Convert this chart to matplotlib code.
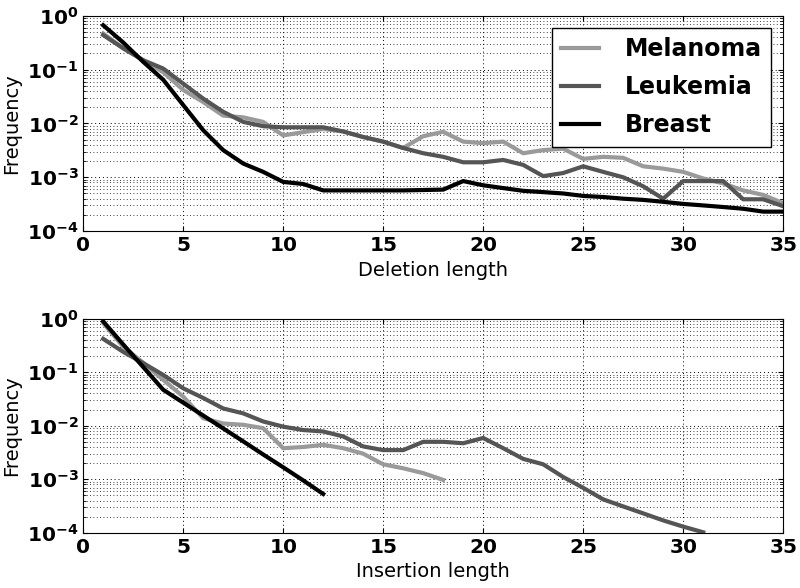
import numpy as np
import matplotlib
matplotlib.use("Agg")
import matplotlib.pyplot as plt
from matplotlib.ticker import FuncFormatter, LogLocator, NullFormatter

# deletion length distribution
del_x = list(range(1, 36))
del_melanoma = [0.47, 0.25, 0.15, 0.09, 0.042, 0.025, 0.014, 0.013, 0.0107, 0.006,
                0.0069, 0.0079, 0.0071, 0.0056, 0.0046, 0.0035, 0.0058, 0.0070, 0.0046, 0.0043,
                0.0046, 0.0028, 0.0032, 0.0034, 0.0022, 0.0024, 0.0023, 0.0016, 0.00145, 0.00126,
                0.00095, 0.00077, 0.00057, 0.00047, 0.00033]
del_leukemia = [0.44, 0.25, 0.15, 0.105, 0.055, 0.029, 0.0165, 0.0107, 0.0089, 0.0085,
                0.0085, 0.0085, 0.0071, 0.0056, 0.0046, 0.0035, 0.0028, 0.0024, 0.0019, 0.0019,
                0.0021, 0.0017, 0.00105, 0.0012, 0.0016, 0.00126, 0.001, 0.00068, 0.0004, 0.00085,
                0.00085, 0.00085, 0.00039, 0.00039, 0.00029]
del_breast = [0.67, 0.32, 0.14, 0.065, 0.022, 0.0075, 0.0032, 0.0018, 0.00126, 0.00082,
              0.00075, 0.00057, 0.00057, 0.00057, 0.00057, 0.00057, 0.00058, 0.00059, 0.00085, 0.00071,
              0.00063, 0.00056, 0.00053, 0.0005, 0.00045, 0.00043, 0.0004, 0.00038, 0.00035, 0.00032,
              0.0003, 0.00028, 0.00026, 0.00023, 0.00023]

# insertion length distribution
ins_melanoma_x = list(range(1, 19))
ins_melanoma = [0.83, 0.3, 0.15, 0.072, 0.035, 0.0138, 0.011, 0.0104, 0.009, 0.0038,
                0.004, 0.0044, 0.0038, 0.003, 0.0019, 0.0016, 0.0013, 0.00097]
ins_leukemia_x = list(range(1, 32))
ins_leukemia = [0.42, 0.24, 0.148, 0.089, 0.05, 0.033, 0.021, 0.017, 0.012, 0.0096,
                0.0083, 0.0078, 0.0063, 0.0041, 0.0035, 0.0035, 0.005, 0.005, 0.0047, 0.0059,
                0.0038, 0.0024, 0.0019, 0.0011, 0.00069, 0.00042, 0.00031, 0.00023, 0.00017, 0.00013,
                0.000102]
ins_breast_x = list(range(1, 13))
ins_breast = [0.89, 0.33, 0.125, 0.047, 0.027, 0.0155, 0.0089, 0.0051, 0.0029, 0.00167,
              0.00095, 0.00053]

labels = ["Melanoma", "Leukemia", "Breast"]
colors = ["#9a9a9a", "#555555", "#000000"]

plt.rcParams["xtick.direction"] = "in"
plt.rcParams["ytick.direction"] = "in"
plt.rcParams["xtick.top"] = True
plt.rcParams["ytick.right"] = True

fig = plt.figure(figsize=(8, 5.88), dpi=100)
ax1 = fig.add_axes([0.104, 0.607, 0.875, 0.366])
ax2 = fig.add_axes([0.104, 0.094, 0.875, 0.364])

def fmt(v, pos):
    return r"$\mathbf{10^{%d}}$" % int(round(np.log10(v)))

def style(ax, xlabel):
    ax.set_yscale("log")
    ax.set_xlim(0, 35)
    ax.set_ylim(1e-4, 1)
    ax.set_xticks([0, 5, 10, 15, 20, 25, 30, 35])
    ax.yaxis.set_major_locator(LogLocator(base=10, numticks=10))
    ax.yaxis.set_minor_locator(LogLocator(base=10, subs=np.arange(2, 10), numticks=10))
    ax.yaxis.set_major_formatter(FuncFormatter(fmt))
    ax.yaxis.set_minor_formatter(NullFormatter())
    ax.grid(True, which="major", linestyle=(0, (1, 3)), color="black", linewidth=0.7)
    ax.grid(True, which="minor", axis="y", linestyle=(0, (1, 3)), color="black", linewidth=0.6)
    ax.tick_params(labelsize=14.5)
    for lab in ax.get_xticklabels():
        lab.set_fontweight("bold")
    ax.set_xlabel(xlabel, fontsize=14)
    ax.set_ylabel("Frequency", fontsize=14)

ax1.plot(del_x, del_melanoma, color=colors[0], lw=3, label=labels[0])
ax1.plot(del_x, del_leukemia, color=colors[1], lw=3, label=labels[1])
ax1.plot(del_x, del_breast, color=colors[2], lw=3, label=labels[2])
style(ax1, "Deletion length")
leg = ax1.legend(loc="upper right", prop={"weight": "bold", "size": 17},
                 fancybox=False, edgecolor="black", framealpha=1,
                 handlelength=1.6, handletextpad=1.1, labelspacing=0.6)
leg.get_frame().set_linewidth(1.0)

ax2.plot(ins_melanoma_x, ins_melanoma, color=colors[0], lw=3)
ax2.plot(ins_leukemia_x, ins_leukemia, color=colors[1], lw=3)
ax2.plot(ins_breast_x, ins_breast, color=colors[2], lw=3)
style(ax2, "Insertion length")

fig.savefig("out.png", dpi=100)
